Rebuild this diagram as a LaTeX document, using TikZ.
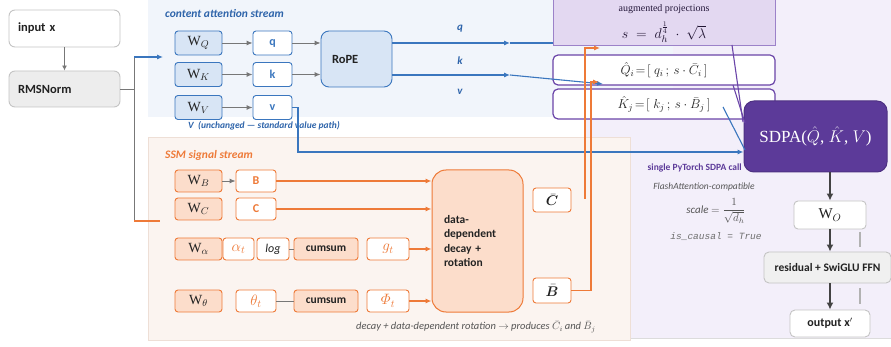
\RequirePackage{fix-cm}
\documentclass[tikz,border=0pt]{standalone}
\usepackage{amsmath}
\usepackage{bm}
\usepackage{fontspec}
\setmainfont{Carlito}
\newfontfamily\serifname{Liberation Serif}
\setmonofont{Liberation Mono}
\usetikzlibrary{arrows.meta}
\definecolor{blueC}{HTML}{3A76BE}
\definecolor{blueT}{HTML}{2E64AA}
\definecolor{blueFill}{HTML}{D8E5F5}
\definecolor{blueReg}{HTML}{F1F5FB}
\definecolor{orangeC}{HTML}{EE7A38}
\definecolor{orangeFill}{HTML}{FCDDCB}
\definecolor{peachReg}{HTML}{FBF4F0}
\definecolor{peachBorder}{HTML}{EEDFD6}
\definecolor{lavReg}{HTML}{F3EFFA}
\definecolor{augFill}{HTML}{E3D8F1}
\definecolor{augBorder}{HTML}{9C82C9}
\definecolor{purpleC}{HTML}{6A44A8}
\definecolor{sdpaFill}{HTML}{5C3A99}
\definecolor{darkT}{HTML}{222222}
\definecolor{grayL}{HTML}{777777}
\definecolor{boxGray}{HTML}{C4C4C4}
\definecolor{grayT}{HTML}{555555}
\newcommand\fsz[2]{\fontsize{#1}{#2}\selectfont}
\begin{document}
\begin{tikzpicture}[x=1pt,y=-1pt,
  box/.style={draw, rounded corners=3pt, line width=0.9pt, inner sep=0pt, align=center},
  gbox/.style={box, draw=boxGray, rounded corners=6pt, font=\bfseries\fsz{12.5}{15}, text=darkT},
  wbox/.style={box, draw=blueC, fill=blueFill, minimum width=47pt, minimum height=24pt, font=\serifname\fsz{14}{16}, text=darkT},
  vbox/.style={box, draw=blueC, fill=white, minimum width=39pt, minimum height=24pt, font=\bfseries\fsz{12}{14}, text=blueC},
  owbox/.style={box, draw=orangeC, fill=orangeFill, minimum width=47pt, minimum height=22pt, font=\serifname\fsz{14}{16}, text=darkT},
  obox/.style={box, draw=orangeC, fill=white, minimum height=22pt, font=\bfseries\fsz{12}{14}, text=orangeC},
  ofbox/.style={box, draw=orangeC, fill=orangeFill, minimum height=22pt, font=\bfseries\fsz{11.5}{14}, text=darkT},
  pbox/.style={box, draw=purpleC, fill=white, rounded corners=5pt, line width=1.2pt, minimum width=222pt, minimum height=30pt, font=\fsz{13}{15}, text=darkT},
  tip/.style={-{Latex[length=6pt,width=5pt]}},
  grayarrow/.style={draw=grayL, line width=0.9pt, tip},
  grayline/.style={draw=grayL, line width=0.9pt},
  blueline/.style={draw=blueC, line width=1.1pt},
  orangeline/.style={draw=orangeC, line width=1.1pt},
  purpleline/.style={draw=purpleC, line width=1.1pt},
  darkarrow/.style={draw=darkT!85, line width=1.8pt, -{Latex[length=7pt,width=7pt]}},
  title/.style={font=\bfseries\itshape\fsz{11.5}{14}, anchor=west, inner sep=0pt}
]
\useasboundingbox (0,0) rectangle (891,347);
% ---------- regions
\fill[lavReg] (586,0) rectangle (891,338);
\draw[boxGray!60, line width=0.8pt] (586,338) -- (891,338);
\fill[blueReg] (148,0) rectangle (673,117);
\filldraw[fill=peachReg, draw=peachBorder, line width=0.9pt] (148,137) rectangle (630,340);

% ---------- left column
\node[gbox, fill=white, minimum width=111pt, minimum height=37pt, text width=93pt, inner xsep=9pt, align=left] (inp) at (64.5,28.5) {input x};
\node[gbox, fill=black!7, minimum width=111pt, minimum height=36pt, text width=93pt, inner xsep=9pt, align=left] (rms) at (64.5,89) {RMSNorm};
\draw[grayarrow, -{Latex[length=5pt,width=5pt]}] (inp) -- (rms);

\coordinate (split) at (134,89);
\coordinate (splitTop) at (134,57);
\coordinate (splitBot) at (134,221);
\coordinate (blueIn) at (163,57);
\coordinate (orangeIn) at (160,221);
\draw[grayline] (rms.east) -- (split);
\draw[grayline] (splitTop) -- (splitBot);
\draw[blueline, tip] (splitTop) -- (blueIn);
\draw[orangeline] (splitBot) -- (orangeIn);

% ---------- content attention stream
\node[title, text=blueT] (ttl1) at (165,14) {content attention stream};
\node[wbox] (WQ) at (198.5,43) {W$_{Q}$};
\node[wbox] (WK) at (198.5,74.5) {W$_{K}$};
\node[wbox] (WV) at (198.5,107.5) {W$_{V}$};
\node[vbox] (q) at (272.5,43) {q};
\node[vbox] (k) at (272.5,74.5) {k};
\node[vbox] (v) at (272.5,107.5) {v};
\node[box, draw=blueC, fill=blueFill, rounded corners=8pt, minimum width=71pt, minimum height=56pt, text width=49pt, inner xsep=11pt, align=left, font=\bfseries\fsz{12.5}{15}, text=darkT] (rope) at (356.5,59) {RoPE};
\draw[grayarrow] (WQ) -- (q);
\draw[grayarrow] (WK) -- (k);
\draw[grayarrow] (WV) -- (v);
\draw[grayarrow] (q.east) -- (q.east -| rope.west);
\draw[grayarrow] (k.east) -- (k.east -| rope.west);
\node[font=\bfseries\itshape\fsz{9.5}{11}, text=blueT, anchor=west, inner sep=0pt] (vnote) at (188,126) {V\ \ (unchanged --- standard value path)};

\node[font=\bfseries\itshape\fsz{11}{13}, text=blueT] (ql) at (460,29) {q};
\node[font=\bfseries\itshape\fsz{11}{13}, text=blueT] (kl) at (460,61) {k};
\node[font=\bfseries\itshape\fsz{11}{13}, text=blueT] (vl) at (460,92) {v};

% ---------- augmented projections
\node[draw=augBorder, fill=augFill, line width=0.8pt, minimum width=222pt, minimum height=46pt, inner sep=0pt] (aug) at (664,22) {};
\node[font=\serifname\fsz{10}{12}, text=black!65!purpleC] (augt) at (664,9) {augmented projections};
\node[font=\fsz{14}{16}, text=black!70!purpleC] (augf) at (664,32) {$s \;=\; d_h^{\frac{1}{4}} \;\cdot\; \sqrt{\lambda}$};
\node[pbox] (Qh) at (664,70) {$\hat{Q}_i\!=\![\;q_i\,;\,s\cdot\bar{C}_i\,]$};
\node[pbox] (Kh) at (664,104) {$\hat{K}_j\!=\![\;k_j\,;\,s\cdot\bar{B}_j\,]$};

\coordinate (qmid) at (510,43);
\coordinate (kmid) at (510,75);
\coordinate (kend) at (603,84);
\draw[blueline, tip] (rope.east |- qmid) -- (qmid);
\draw[blueline] (qmid) -- (qmid -| aug.west);
\draw[blueline, tip] (rope.east |- kmid) -- (kmid);
\draw[blueline, tip] (kmid) -- (kend);

% ---------- SDPA
\node[box, draw=sdpaFill!85!black, fill=sdpaFill, rounded corners=10pt, line width=1pt, minimum width=143pt, minimum height=71pt, font=\serifname\fsz{17}{20}, text=white] (sdpa) at (815.5,136.5) {SDPA($\hat{Q}$, $\hat{K}$, $V$)};

\coordinate (pa1) at (732,45);
\coordinate (pa2) at (743,122);
\coordinate (pb1) at (733,85);
\coordinate (pb2) at (745,123);
\draw[purpleline] (pa1) -- (pa2);
\draw[purpleline] (pb1) -- (pb2);
\coordinate (kb1) at (723,107);
\coordinate (kb2) at (745,150);
\draw[blueline] (kb1) -- (kb2);

\coordinate (vturn) at (298,107.5);
\coordinate (vdown) at (298,152);
\draw[blueline, tip] (v.east) -- (vturn) -- (vdown) -- (vdown -| sdpa.west);

\node[font=\bfseries\fsz{9.5}{11}, text=sdpaFill, anchor=east, inner sep=0pt] (sc) at (742,168) {single PyTorch SDPA call};
\node[font=\itshape\fsz{9.5}{11}, text=grayT] (fa) at (704,187) {FlashAttention-compatible};
\node[font=\fsz{11}{13}, text=grayT] (scl) at (716,211) {{\itshape scale} $=\dfrac{1}{\sqrt{d_h}}$};
\node[font=\ttfamily\itshape\fsz{9.5}{11}, text=grayT!85] (isc) at (716,237) {is\_causal = True};

% ---------- output column
\node[box, draw=boxGray, fill=white, rounded corners=4pt, minimum width=72pt, minimum height=28pt, font=\serifname\fsz{15}{17}, text=darkT] (WO) at (830,215) {W$_{O}$};
\node[box, draw=boxGray, fill=black!6, rounded corners=5pt, minimum width=127pt, minimum height=31pt, font=\bfseries\fsz{11.5}{14}, text=darkT] (res) at (827.5,267.5) {residual + SwiGLU FFN};
\node[box, draw=boxGray, fill=white, rounded corners=5pt, minimum width=80pt, minimum height=27pt, font=\bfseries\fsz{12}{14}, text=darkT] (out) at (830,323.5) {output x$'$};
\draw[darkarrow] (sdpa.south -| WO.north) -- (WO.north);
\draw[darkarrow, line width=1.4pt] (WO.south) -- (WO.south |- res.north);
\draw[darkarrow, line width=1.4pt] (WO.south |- res.south) -- (WO.south |- out.north);
\coordinate (sk1) at (860,232);
\coordinate (sk2) at (860,247);
\coordinate (sk3) at (860,288);
\coordinate (sk4) at (860,304);
\draw[black!30, line width=1.5pt] (sk1) -- (sk2);
\draw[black!30, line width=1.5pt] (sk3) -- (sk4);

% ---------- SSM signal stream
\node[title, text=orangeC] (ttl2) at (165,155) {SSM signal stream};
\node[owbox] (WB) at (198.5,181) {W$_{B}$};
\node[owbox] (WC) at (198.5,209) {W$_{C}$};
\node[owbox] (Wa) at (198.5,249) {W$_{\alpha}$};
\node[owbox] (Wt) at (198.5,301) {W$_{\theta}$};
\node[obox, minimum width=40pt] (B) at (256,181) {B};
\node[obox, minimum width=40pt] (C) at (256,209) {C};
\node[obox, minimum width=31pt, font=\fsz{15}{17}] (at) at (238.5,249) {$\alpha_t$};
\node[obox, minimum width=32pt, font=\itshape\fsz{12}{14}, text=darkT] (lg) at (273,249) {log};
\node[ofbox, minimum width=64pt] (cs1) at (326,249) {cumsum};
\node[obox, minimum width=42pt, font=\fsz{15}{17}] (gt) at (388,249) {$g_t$};
\node[obox, minimum width=40pt, font=\fsz{15}{17}] (tt) at (256,301) {$\theta_t$};
\node[ofbox, minimum width=64pt] (cs2) at (326,301) {cumsum};
\node[obox, minimum width=42pt, font=\fsz{15}{17}] (pt) at (388,301) {$\varPhi_t$};
\node[box, draw=orangeC, fill=orangeFill, rounded corners=14pt, line width=1pt, minimum width=91pt, minimum height=142pt, text width=67pt, inner xsep=12pt, align=left, font=\bfseries\fsz{11.5}{14.5}, text=darkT] (dec) at (477.5,241) {data-\\dependent\\decay +\\rotation};
\node[obox, minimum width=38pt, minimum height=24pt, font=\fsz{14}{16}, text=darkT] (Cb) at (552,200) {$\bar{\bm{C}}$};
\node[obox, minimum width=38pt, minimum height=25pt, font=\fsz{14}{16}, text=darkT] (Bb) at (552,290.5) {$\bar{\bm{B}}$};

\draw[grayarrow] (WB) -- (B);
\draw[grayline] (lg) -- (cs1);
\draw[grayline] (tt) -- (cs2);
\draw[orangeline, tip] (B.east) -- (B.east -| dec.west);
\draw[orangeline, tip] (C.east) -- (C.east -| dec.west);
\draw[orangeline, tip] (gt.east) -- (gt.east -| dec.west);
\draw[orangeline, tip] (pt.east) -- (pt.east -| dec.west);

\node[font=\itshape\fsz{10.5}{12}, text=grayT] (cap) at (476,327) {decay + data-dependent rotation $\rightarrow$ produces $\bar{C}_i$\,and $\bar{B}_j$};

\coordinate (cfree) at (585,199);
\coordinate (cup) at (585,48);
\coordinate (cend) at (600,48);
\coordinate (bturn) at (591,290.5);
\coordinate (bup) at (591,82);
\coordinate (bend) at (599,82);
\draw[orangeline, tip] (cfree) -- (cup) -- (cend);
\draw[orangeline, tip] (Bb.east) -- (bturn) -- (bup) -- (bend);
\end{tikzpicture}
\end{document}
